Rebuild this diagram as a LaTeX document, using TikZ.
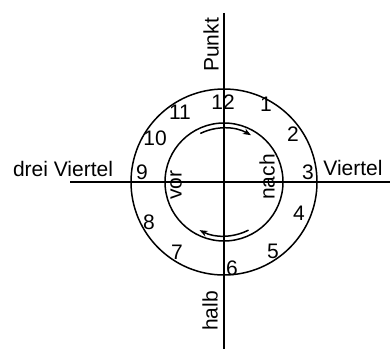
\documentclass[tikz,border=0pt]{standalone}
\usepackage{fontspec}
\setmainfont{Liberation Sans}
\usetikzlibrary{calc,arrows.meta}
\tikzset{
  axis/.style={line width=1pt},
  ring/.style={line width=0.75pt},
  turn/.style={line width=0.75pt,-{Stealth[length=4pt,width=3pt]}},
  num/.style={inner sep=0pt,font=\fontsize{10.5}{12}\selectfont},
  lbl/.style={inner sep=0pt,font=\fontsize{10.5}{12}\selectfont}
}
\begin{document}
\begin{tikzpicture}[x=0.5pt,y=0.5pt]
\useasboundingbox (0,0) rectangle (390,349);
\coordinate (O) at (224,167);
\coordinate (top) at (224,336);
\coordinate (bot) at (224,0);
\coordinate (lft) at (70,167);
\coordinate (rgt) at (390,167);
\draw[axis] (top)--(bot) (lft)--(rgt);
\draw[ring] (O) circle[radius=93];
\draw[ring] (O) circle[radius=59];
\draw[turn] ($(O)+(116:54)$) arc[start angle=116,end angle=60,radius=54];
\draw[turn] ($(O)+(-63:54)$) arc[start angle=-63,end angle=-117,radius=54];
\foreach \i/\x/\y in {1/42/78,2/69/48,3/84/10,4/75/-31,5/49/-69,6/8/-86,7/-47/-70,8/-75/-40,9/-82/10,10/-69/44,11/-44/70,12/-1/80}{\node[num] (h\i) at ($(O)+(\x,\y)$) {\i};}
\node[lbl,rotate=90] (punkt) at (211,304) {Punkt};
\node[lbl,rotate=90] (halb) at (210,38) {halb};
\node[lbl,anchor=base] (drei) at (63,173) {drei Viertel};
\node[lbl,anchor=base west] (viertel) at (323,174) {Viertel};
\node[lbl,rotate=90] (vor) at (176,164) {vor};
\node[lbl,rotate=90] (nach) at (267,172) {nach};
\end{tikzpicture}
\end{document}
